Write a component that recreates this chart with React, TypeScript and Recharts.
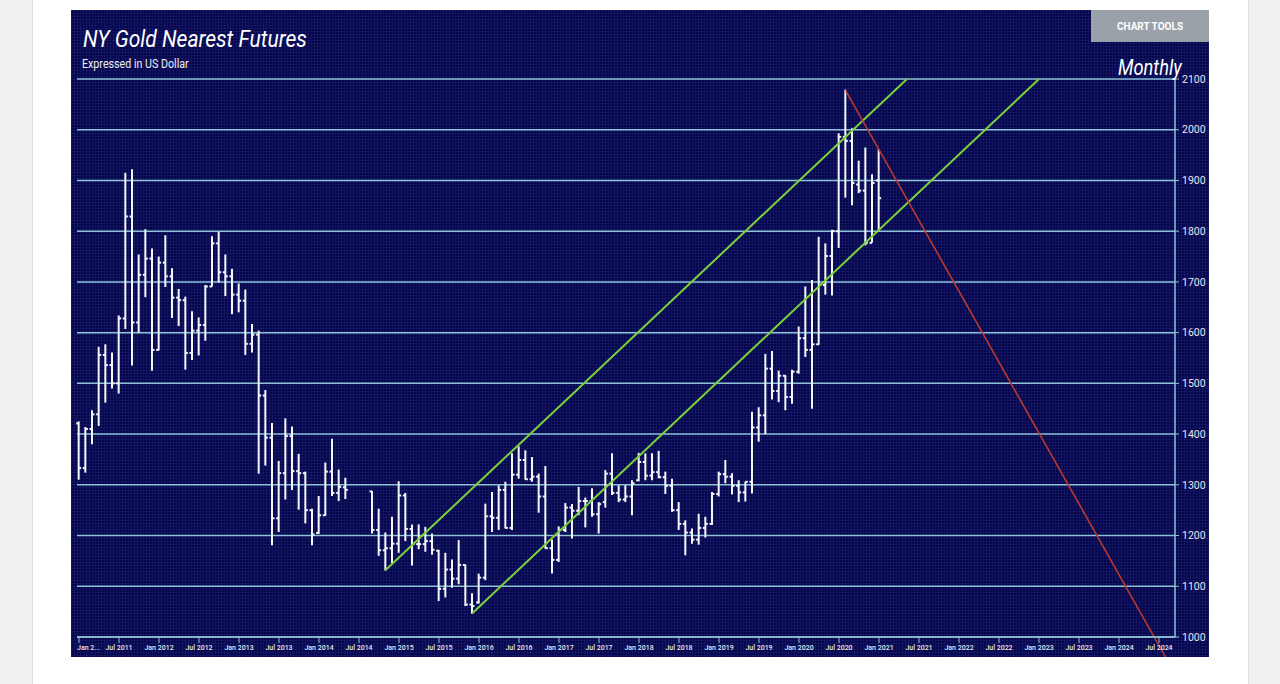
import {
  Bar,
  CartesianGrid,
  ComposedChart,
  ReferenceLine,
  XAxis,
  YAxis,
} from 'recharts';

// month index 0 = Jan 2011 (Jun–Aug 2014 missing in the source feed)
const months = Array.from({ length: 121 }, (_, i) => i);

const opens = [
  1421, 1333, 1410, 1439, 1556, 1536, 1500, 1628, 1829, 1620, 1714, 1746,
  1566, 1738, 1711, 1669, 1664, 1560, 1604, 1615, 1691, 1776, 1719, 1711,
  1675, 1663, 1578, 1596, 1476, 1393, 1234, 1323, 1396, 1327, 1323, 1250,
  1205, 1240, 1326, 1284, 1295, null, null, null, 1287, 1211, 1171, 1175,
  1184, 1279, 1213, 1183, 1183, 1189, 1170, 1095, 1133, 1115, 1142, 1064,
  1068, 1117, 1238, 1235, 1290, 1215, 1320, 1349, 1311, 1316, 1277, 1175,
  1152, 1211, 1255, 1249, 1268, 1268, 1242, 1266, 1322, 1284, 1271, 1277,
  1309, 1345, 1318, 1325, 1315, 1298, 1250, 1223, 1206, 1192, 1215, 1223,
  1282, 1321, 1316, 1298, 1285, 1306, 1413, 1437, 1529, 1485, 1515, 1473,
  1523, 1589, 1566, 1577, 1694, 1751, 1800, 1986, 1978, 1892, 1880, 1777,
  1900,
];
const highs = [
  1425, 1414, 1447, 1572, 1577, 1561, 1634, 1915, 1922, 1754, 1804, 1766,
  1750, 1792, 1727, 1686, 1671, 1642, 1630, 1694, 1790, 1799, 1754, 1726,
  1697, 1685, 1617, 1604, 1487, 1422, 1347, 1431, 1415, 1361, 1326, 1253,
  1278, 1344, 1391, 1330, 1314, null, null, null, 1288, 1253, 1206, 1237,
  1307, 1284, 1222, 1222, 1217, 1204, 1172, 1166, 1153, 1191, 1143, 1086,
  1125, 1263, 1286, 1299, 1306, 1362, 1376, 1368, 1355, 1322, 1337, 1192,
  1218, 1264, 1262, 1296, 1275, 1293, 1266, 1329, 1362, 1299, 1299, 1309,
  1363, 1362, 1362, 1367, 1326, 1312, 1266, 1230, 1214, 1243, 1237, 1286,
  1326, 1349, 1323, 1309, 1306, 1444, 1453, 1558, 1564, 1525, 1516, 1527,
  1612, 1691, 1704, 1789, 1776, 1803, 1993, 2079, 2003, 1939, 1965, 1912,
  1962,
];
const lows = [
  1310, 1324, 1380, 1416, 1462, 1490, 1480, 1607, 1535, 1600, 1670, 1525,
  1565, 1690, 1629, 1613, 1527, 1546, 1555, 1584, 1691, 1699, 1672, 1636,
  1640, 1556, 1561, 1322, 1338, 1181, 1207, 1271, 1290, 1251, 1224, 1181,
  1203, 1239, 1278, 1268, 1272, null, null, null, 1204, 1160, 1131, 1146,
  1166, 1189, 1141, 1173, 1168, 1162, 1071, 1078, 1097, 1104, 1061, 1046,
  1066, 1112, 1207, 1211, 1214, 1211, 1312, 1310, 1306, 1245, 1174, 1125,
  1148, 1207, 1194, 1240, 1216, 1237, 1204, 1255, 1280, 1266, 1266, 1240,
  1307, 1309, 1309, 1313, 1282, 1247, 1211, 1161, 1184, 1182, 1196, 1221,
  1277, 1303, 1281, 1266, 1267, 1283, 1385, 1400, 1468, 1463, 1447, 1460,
  1519, 1552, 1450, 1576, 1675, 1673, 1767, 1866, 1851, 1875, 1772, 1777,
  1800,
];
const closes = [
  1333, 1410, 1439, 1556, 1536, 1500, 1628, 1829, 1620, 1714, 1746, 1566,
  1738, 1711, 1669, 1664, 1560, 1604, 1615, 1691, 1776, 1719, 1711, 1675,
  1663, 1578, 1596, 1476, 1393, 1234, 1323, 1396, 1327, 1323, 1250, 1202,
  1240, 1326, 1284, 1296, 1290, null, null, null, 1211, 1171, 1175, 1184,
  1279, 1213, 1183, 1183, 1189, 1172, 1095, 1133, 1115, 1142, 1064, 1061,
  1117, 1238, 1235, 1290, 1215, 1320, 1349, 1311, 1316, 1277, 1175, 1152,
  1211, 1255, 1249, 1268, 1268, 1242, 1262, 1322, 1284, 1271, 1277, 1303,
  1345, 1318, 1325, 1315, 1298, 1250, 1223, 1206, 1192, 1215, 1223, 1282,
  1321, 1316, 1298, 1285, 1306, 1413, 1437, 1529, 1485, 1515, 1473, 1523,
  1589, 1566, 1577, 1694, 1751, 1800, 1986, 1978, 1895, 1880, 1777, 1895,
  1865,
];

const tickMonths = Array.from({ length: 28 }, (_, i) => i * 6);
const tickLabels = [
  'Jan 2...', 'Jul 2011', 'Jan 2012', 'Jul 2012', 'Jan 2013', 'Jul 2013', 'Jan 2014',
  'Jul 2014', 'Jan 2015', 'Jul 2015', 'Jan 2016', 'Jul 2016', 'Jan 2017', 'Jul 2017',
  'Jan 2018', 'Jul 2018', 'Jan 2019', 'Jul 2019', 'Jan 2020', 'Jul 2020', 'Jan 2021',
  'Jul 2021', 'Jan 2022', 'Jul 2022', 'Jan 2023', 'Jul 2023', 'Jan 2024', 'Jul 2024',
];
const priceTicks = [1000, 1100, 1200, 1300, 1400, 1500, 1600, 1700, 1800, 1900, 2000, 2100];

// hand-drawn trend lines: [month, price]
const channelUpper = [[46, 1132], [124.2, 2100]];
const channelLower = [[59, 1047], [144, 2100]];
const breakdownLine = [[115, 2077], [163, 960]];

const data = months
  .filter((m) => highs[m] !== null)
  .map((m) => ({
    m,
    open: opens[m],
    high: highs[m],
    low: lows[m],
    close: closes[m],
    range: [lows[m], highs[m]],
  }));

const GRID = '#8cc3d8';
const TEXT = '#e4e7f2';

function OhlcShape(props: any) {
  const { x, y, width, height, payload } = props;
  if (height == null || !payload) return null;
  const cx = x + width / 2;
  const span = payload.high - payload.low || 1;
  const yOpen = y + ((payload.high - payload.open) / span) * height;
  const yClose = y + ((payload.high - payload.close) / span) * height;
  return (
    <g stroke="#f4f6fb" strokeWidth={2}>
      <line x1={cx} x2={cx} y1={y} y2={y + height} />
      <line x1={cx - 2.5} x2={cx} y1={yOpen} y2={yOpen} />
      <line x1={cx} x2={cx + 2.5} y1={yClose} y2={yClose} />
    </g>
  );
}

function MonthTick(props: any) {
  const { x, y, payload, index } = props;
  const label = tickLabels[tickMonths.indexOf(payload.value)] ?? '';
  const first = index === 0;
  return (
    <text
      x={first ? x - 2 : x}
      y={y}
      dy="0.71em"
      textAnchor={first ? 'start' : 'middle'}
      fill={TEXT}
      fontSize={7}
      fontWeight={500}
      fontFamily="Roboto, sans-serif"
    >
      {label}
    </text>
  );
}

const seg = (pts: number[][]) => pts.map(([x, y]) => ({ x, y }));

export default function App() {
  return (
    <div
      style={{
        position: 'absolute',
        left: 0,
        top: 0,
        width: 1280,
        height: 684,
        background: '#f1f1f1',
        overflow: 'hidden',
      }}
    >
      <div
        style={{
          position: 'absolute',
          left: 32,
          top: -2,
          width: 1215,
          height: 690,
          background: '#ffffff',
          border: '1px solid #dedede',
        }}
      />
      <div
        style={{
          position: 'absolute',
          left: 71,
          top: 10,
          width: 1138,
          height: 647,
          backgroundColor: '#06064a',
          backgroundImage:
            'linear-gradient(rgba(50,60,160,0.22) 1px, transparent 1px), linear-gradient(90deg, rgba(50,60,160,0.22) 1px, transparent 1px)',
          backgroundSize: '3px 3px',
          fontFamily: 'Roboto, sans-serif',
        }}
      >
        <ComposedChart
          width={1138}
          height={647}
          data={data}
          margin={{ top: 69, right: 0, bottom: 0, left: 6 }}
        >
          <CartesianGrid stroke={GRID} strokeWidth={1.5} vertical={false} />
          <XAxis
            dataKey="m"
            type="number"
            domain={[-0.3, 164.4]}
            ticks={tickMonths}
            interval={0}
            height={20}
            tick={<MonthTick />}
            tickSize={6}
            tickMargin={2}
            stroke={GRID}
            tickLine={{ stroke: GRID }}
            axisLine={{ stroke: GRID, strokeWidth: 1.5 }}
          />
          <YAxis
            orientation="right"
            domain={[1000, 2100]}
            allowDataOverflow
            ticks={priceTicks}
            width={34}
            tickSize={4}
            tickMargin={3}
            stroke={GRID}
            tick={{ fill: TEXT, fontSize: 10.5, fontFamily: 'Roboto, sans-serif' }}
            axisLine={{ stroke: GRID, strokeWidth: 1.5 }}
          />
          <Bar
            dataKey="range"
            barSize={2}
            isAnimationActive={false}
            shape={<OhlcShape />}
          />
          <ReferenceLine
            segment={seg(channelUpper)}
            stroke="#7ad23c"
            strokeWidth={2}
            ifOverflow="visible"
          />
          <ReferenceLine
            segment={seg(channelLower)}
            stroke="#7ad23c"
            strokeWidth={2}
            ifOverflow="visible"
          />
          <ReferenceLine
            segment={seg(breakdownLine)}
            stroke="#b9392c"
            strokeWidth={1.6}
            ifOverflow="visible"
          />
        </ComposedChart>

        <div
          style={{
            position: 'absolute',
            left: 12,
            top: 14,
            color: '#ffffff',
            fontSize: 24.5,
            fontStyle: 'italic',
            whiteSpace: 'nowrap',
            transform: 'scaleX(0.86)',
            transformOrigin: 'left top',
            lineHeight: 'normal',
          }}
        >
          NY Gold Nearest Futures
        </div>
        <div
          style={{
            position: 'absolute',
            left: 11,
            top: 47,
            color: '#eceef6',
            fontSize: 12,
            whiteSpace: 'nowrap',
            transform: 'scaleX(0.89)',
            transformOrigin: 'left top',
            lineHeight: 'normal',
          }}
        >
          Expressed in US Dollar
        </div>
        <div
          style={{
            position: 'absolute',
            right: 27,
            top: 45,
            color: '#ffffff',
            fontSize: 22,
            fontStyle: 'italic',
            whiteSpace: 'nowrap',
            transform: 'scaleX(0.83)',
            transformOrigin: 'right top',
            lineHeight: 'normal',
          }}
        >
          Monthly
        </div>
        <div
          style={{
            position: 'absolute',
            left: 1020,
            top: 0,
            width: 118,
            height: 32,
            background: '#9ba1a8',
            color: '#ffffff',
            fontSize: 10,
            fontWeight: 700,
            display: 'flex',
            alignItems: 'center',
            justifyContent: 'center',
          }}
        >
          CHART TOOLS
        </div>
      </div>
    </div>
  );
}
